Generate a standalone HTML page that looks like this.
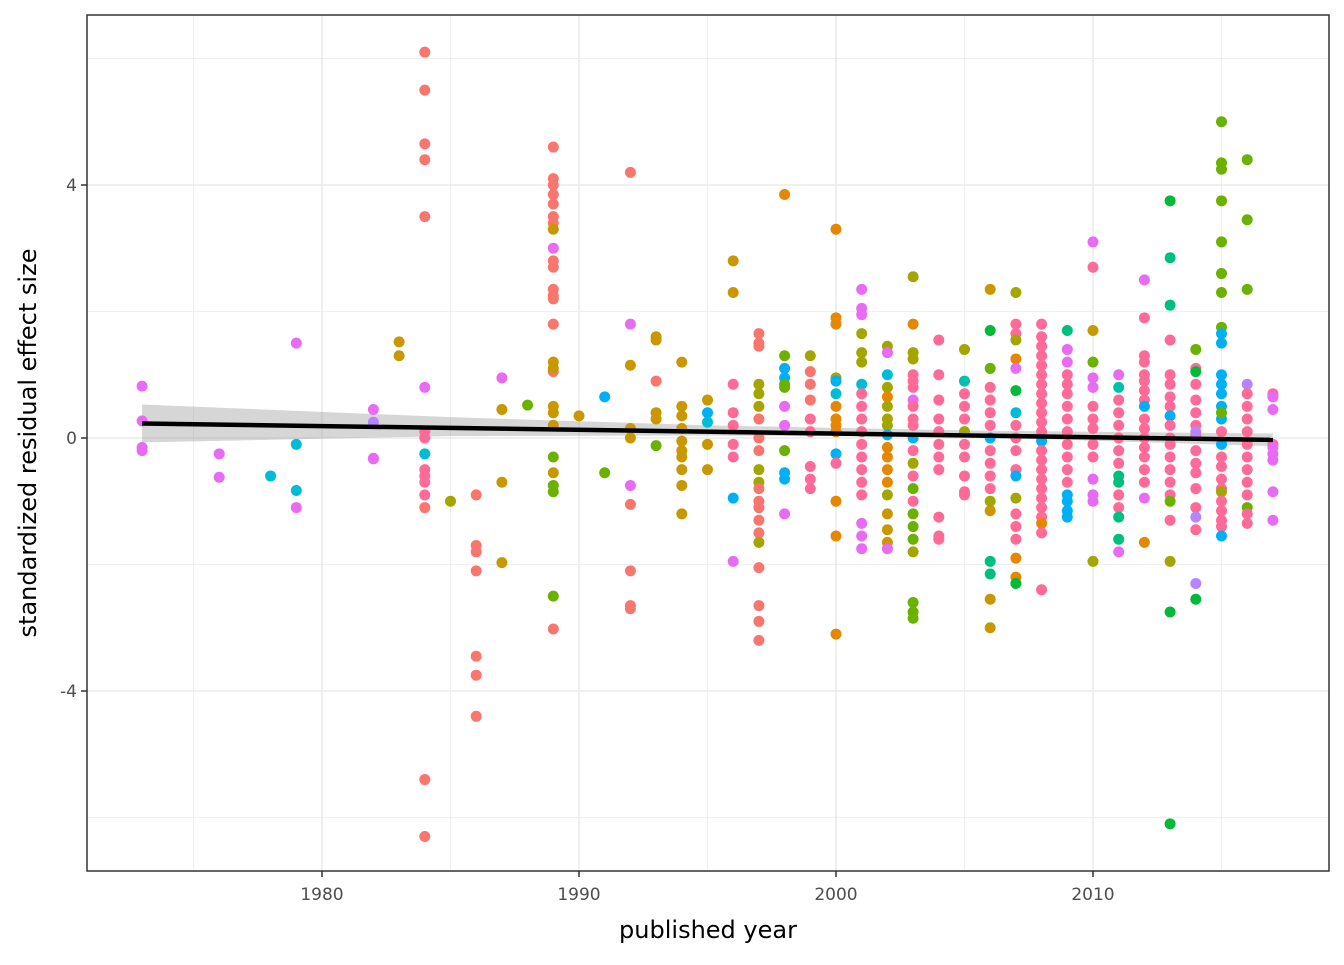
<!DOCTYPE html>
<html><head><meta charset="utf-8"><style>
body{margin:0;background:#fff;}
svg text{font-family:"DejaVu Sans","Liberation Sans",sans-serif;}
</style></head><body>
<svg id="chart" width="1344" height="960" xmlns="http://www.w3.org/2000/svg">
<rect width="1344" height="960" fill="#fff"/>
<g id="grid"></g>
<g id="ribbon"></g>
<g id="points"></g>
<g id="fit"></g>
<rect x="87" y="15" width="1242" height="856" fill="none" stroke="#333" stroke-width="1.5"/>
<g id="axes"></g>
<text x="708" y="938" font-size="24" text-anchor="middle" fill="#000">published year</text>
<text transform="translate(36,443) rotate(-90)" font-size="24" text-anchor="middle" fill="#000">standardized residual effect size</text>
</svg>
<script>
const xTicks=[1980,1990,2000,2010];
const yTicks=[-4,0,4];
const palette=["#F8766D","#E58700","#C99800","#A3A500","#6BB100","#00BA38","#00BF7D","#00C0AF","#00BCD8","#00B0F6","#619CFF","#B983FF","#E76BF3","#FF6A98","#FF67A4"];
const years=[1973,1976,1978,1979,1982,1983,1984,1985,1986,1987,1988,1989,1990,1991,1992,1993,1994,1995,1996,1997,1998,1999,2000,2001,2002,2003,2004,2005,2006,2007,2008,2009,2010,2011,2012,2013,2014,2015,2016,2017];
const values=[
[[0.82,12],[0.27,12],[-0.15,12],[-0.2,12]],
[[-0.25,12],[-0.62,12]],
[[-0.6,8]],
[[1.5,12],[-0.1,8],[-0.83,8],[-1.1,12]],
[[0.45,12],[0.25,11],[-0.32,12],[-0.33,12]],
[[1.52,2],[1.3,2]],
[[6.1,0],[5.5,0],[4.65,0],[4.4,0],[3.5,0],[0.8,12],[0.1,13],[0.0,13],[-0.25,8],[-0.5,13],[-0.6,13],[-0.7,13],[-0.9,13],[-1.1,0],[-5.4,0],[-6.3,0]],
[[-1.0,3]],
[[-0.9,0],[-1.7,0],[-1.8,0],[-2.1,0],[-3.45,0],[-3.75,0],[-4.4,0]],
[[0.95,12],[0.45,2],[-0.7,2],[-1.97,2]],
[[0.52,4]],
[[4.6,0],[4.1,0],[4.0,0],[3.85,0],[3.7,0],[3.5,0],[3.4,0],[2.8,0],[2.7,0],[2.35,0],[2.25,0],[2.2,0],[1.8,0],[1.05,0],[3.3,2],[3.0,12],[1.2,2],[1.1,2],[0.5,2],[0.4,2],[0.2,2],[-0.3,4],[-0.55,2],[-0.75,4],[-0.85,4],[-2.5,4],[-3.02,0]],
[[0.35,2]],
[[0.65,9],[-0.55,4]],
[[4.2,0],[1.8,12],[1.15,2],[0.15,2],[0.0,2],[-0.75,12],[-1.05,0],[-2.1,0],[-2.65,0],[-2.7,0]],
[[1.6,2],[1.55,2],[0.9,0],[0.4,2],[0.3,2],[-0.12,4]],
[[1.2,2],[0.5,2],[0.35,2],[0.15,2],[-0.05,2],[-0.2,2],[-0.3,2],[-0.5,2],[-0.75,2],[-1.2,2]],
[[0.6,2],[0.4,9],[0.25,8],[-0.1,2],[-0.5,2]],
[[2.8,2],[2.3,2],[0.85,13],[0.4,13],[0.2,13],[-0.1,13],[-0.3,13],[-0.95,9],[-1.95,12]],
[[1.65,0],[1.5,0],[1.45,0],[0.85,3],[0.7,3],[0.5,3],[0.3,0],[0.0,0],[-0.2,0],[-0.5,3],[-0.7,3],[-0.8,0],[-1.0,0],[-1.1,0],[-1.3,0],[-1.5,0],[-1.65,3],[-2.05,0],[-2.65,0],[-2.9,0],[-3.2,0]],
[[3.85,1],[1.3,4],[1.1,9],[0.95,9],[0.85,4],[0.8,4],[0.5,12],[0.2,12],[-0.2,4],[-0.55,9],[-0.65,9],[-1.2,12]],
[[1.3,3],[1.05,0],[0.85,0],[0.6,0],[0.3,13],[0.1,13],[-0.45,13],[-0.65,13],[-0.8,13]],
[[3.3,1],[1.9,1],[1.8,1],[0.95,3],[0.9,9],[0.7,8],[0.5,1],[0.3,1],[0.2,1],[0.1,1],[-0.25,9],[-0.4,13],[-1.0,1],[-1.55,1],[-3.1,1]],
[[2.35,12],[2.05,12],[1.95,12],[1.65,3],[1.35,3],[1.2,3],[0.85,8],[0.7,13],[0.5,13],[0.3,13],[0.1,13],[-0.1,13],[-0.3,13],[-0.5,13],[-0.7,13],[-0.9,13],[-1.35,12],[-1.55,12],[-1.75,12]],
[[1.45,3],[1.35,12],[1.0,8],[0.8,3],[0.65,1],[0.5,3],[0.3,3],[0.2,3],[0.05,9],[-0.15,1],[-0.3,1],[-0.5,1],[-0.7,1],[-0.9,3],[-1.2,2],[-1.45,2],[-1.65,2],[-1.75,12]],
[[2.55,3],[1.8,1],[1.35,3],[1.25,3],[1.0,13],[0.9,13],[0.8,13],[0.6,12],[0.5,13],[0.3,13],[0.2,13],[0.0,9],[-0.2,13],[-0.4,3],[-0.6,13],[-0.8,4],[-1.0,13],[-1.2,4],[-1.4,4],[-1.6,4],[-1.8,3],[-2.6,4],[-2.75,4],[-2.85,4]],
[[1.55,13],[1.0,13],[0.6,13],[0.3,13],[0.1,13],[-0.1,13],[-0.3,13],[-0.5,13],[-1.25,13],[-1.55,13],[-1.6,13]],
[[1.4,3],[0.9,7],[0.7,13],[0.5,13],[0.3,13],[0.1,3],[-0.1,13],[-0.3,13],[-0.6,13],[-0.85,13],[-0.9,13]],
[[2.35,2],[1.7,5],[1.1,4],[0.8,13],[0.6,13],[0.4,13],[0.2,13],[0.0,9],[-0.2,13],[-0.4,13],[-0.6,13],[-0.8,13],[-1.0,3],[-1.15,2],[-1.95,6],[-2.15,6],[-2.55,2],[-3.0,2]],
[[2.3,3],[1.8,13],[1.65,13],[1.55,3],[1.25,1],[1.1,12],[0.75,5],[0.4,8],[0.2,13],[0.0,13],[-0.2,13],[-0.5,13],[-0.6,9],[-0.95,3],[-1.2,13],[-1.4,13],[-1.6,13],[-1.9,1],[-2.2,1],[-2.3,5]],
[[1.8,13],[1.6,13],[1.45,13],[1.3,13],[1.15,13],[1.0,13],[0.85,13],[0.7,13],[0.55,13],[0.4,13],[0.25,13],[0.1,13],[-0.05,9],[-0.2,13],[-0.35,13],[-0.5,13],[-0.65,13],[-0.8,13],[-0.95,13],[-1.1,13],[-1.25,13],[-1.35,1],[-1.5,13],[-2.4,13]],
[[1.7,6],[1.4,12],[1.2,12],[1.0,13],[0.85,13],[0.7,13],[0.5,13],[0.3,13],[0.1,13],[-0.1,13],[-0.3,13],[-0.5,13],[-0.7,13],[-0.9,9],[-1.0,9],[-1.15,9],[-1.25,9]],
[[3.1,12],[2.7,13],[1.7,2],[1.2,4],[0.95,12],[0.8,12],[0.5,13],[0.3,13],[0.15,13],[-0.1,13],[-0.3,13],[-0.65,12],[-0.9,12],[-1.0,12],[-1.95,3]],
[[1.0,12],[0.8,7],[0.6,13],[0.4,13],[0.2,13],[0.0,13],[-0.2,13],[-0.4,13],[-0.6,6],[-0.7,6],[-0.9,13],[-1.1,13],[-1.25,6],[-1.6,6],[-1.8,12]],
[[2.5,12],[1.9,13],[1.3,13],[1.2,13],[1.0,13],[0.9,13],[0.75,13],[0.6,13],[0.5,9],[0.3,13],[0.15,13],[0.0,13],[-0.15,13],[-0.3,13],[-0.5,13],[-0.7,13],[-0.95,12],[-1.65,1]],
[[3.75,5],[2.85,6],[2.1,6],[1.55,13],[1.0,13],[0.85,13],[0.65,13],[0.5,13],[0.35,9],[0.2,13],[0.0,13],[-0.1,13],[-0.3,13],[-0.5,13],[-0.7,13],[-0.9,13],[-1.0,4],[-1.3,13],[-1.95,3],[-2.75,5],[-6.1,5]],
[[1.4,4],[1.1,13],[1.05,5],[0.85,13],[0.6,13],[0.4,13],[0.2,13],[0.05,13],[0.1,11],[-0.2,13],[-0.4,13],[-0.55,13],[-0.8,13],[-1.1,13],[-1.25,11],[-1.45,13],[-2.3,11],[-2.55,5]],
[[5.0,4],[4.35,4],[4.25,4],[3.75,4],[3.1,4],[2.6,4],[2.3,4],[1.75,4],[1.65,9],[1.5,9],[1.0,9],[0.85,9],[0.7,9],[0.5,9],[0.3,9],[0.4,4],[0.1,13],[-0.1,9],[-0.3,13],[-0.45,13],[-0.65,13],[-0.8,13],[-0.85,3],[-1.0,13],[-1.15,13],[-1.3,13],[-1.4,13],[-1.55,9]],
[[4.4,4],[3.45,4],[2.35,4],[0.85,11],[0.7,13],[0.5,13],[0.3,13],[0.1,13],[-0.1,13],[-0.3,13],[-0.5,13],[-0.7,13],[-0.9,13],[-1.1,4],[-1.2,13],[-1.35,13]],
[[0.7,13],[0.65,12],[0.45,12],[-0.1,13],[-0.15,12],[-0.25,12],[-0.35,12],[-0.85,12],[-1.3,12]]
];
const fitYears=[1973,2017];
const fitValues=[0.23,-0.03];
const ribbonYears=[1973,1985,1995,2005,2017];
const ribbonLow=[-0.07,0.03,0.04,0.02,-0.13];
const ribbonHigh=[0.53,0.33,0.20,0.12,0.07];

const X=v=>322+(v-1980)*25.7;
const Y=v=>438-v*63.25;
const NS="http://www.w3.org/2000/svg";
function mk(tag,attrs,parent){const e=document.createElementNS(NS,tag);for(const k in attrs)e.setAttribute(k,attrs[k]);parent.appendChild(e);return e;}
const grid=document.getElementById('grid'),axes=document.getElementById('axes');
for(let y=-6;y<=6;y+=2){const major=(y%4===0);const l=mk('line',{x1:87,x2:1329,y1:Y(y),y2:Y(y),stroke:'#ebebeb','stroke-width':major?1.6:0.8},grid);

}
for(let x=1975;x<=2015;x+=5){const major=(x%10===0);const l=mk('line',{x1:X(x),x2:X(x),y1:15,y2:871,stroke:'#ebebeb','stroke-width':major?1.6:0.8},grid);

}
xTicks.forEach(t=>{mk('line',{x1:X(t),x2:X(t),y1:871,y2:877,stroke:'#333','stroke-width':1.5},axes);
const tx=mk('text',{x:X(t),y:900,'font-size':17,'text-anchor':'middle',fill:'#4d4d4d'},axes);tx.textContent=t;

});
yTicks.forEach(t=>{mk('line',{x1:81,x2:87,y1:Y(t),y2:Y(t),stroke:'#333','stroke-width':1.5},axes);
const tx=mk('text',{x:77,y:Y(t)+6,'font-size':17,'text-anchor':'end',fill:'#4d4d4d'},axes);tx.textContent=t;

});
const pg=document.getElementById('points');
years.forEach((yr,i)=>{values[i].forEach(p=>{const c=mk('circle',{cx:X(yr),cy:Y(p[0]),r:5.5,fill:palette[p[1]]},pg);

});});
let d='';ribbonYears.forEach((yr,i)=>{d+=(i?'L':'M')+X(yr)+','+Y(ribbonHigh[i]);});
for(let i=ribbonYears.length-1;i>=0;i--)d+='L'+X(ribbonYears[i])+','+Y(ribbonLow[i]);
const rb=mk('path',{d:d+'Z',fill:'#999','fill-opacity':0.4},document.getElementById('ribbon'));


const fl=mk('line',{x1:X(fitYears[0]),y1:Y(fitValues[0]),x2:X(fitYears[1]),y2:Y(fitValues[1]),stroke:'#000','stroke-width':4.5},document.getElementById('fit'));


</script>
</body></html>
